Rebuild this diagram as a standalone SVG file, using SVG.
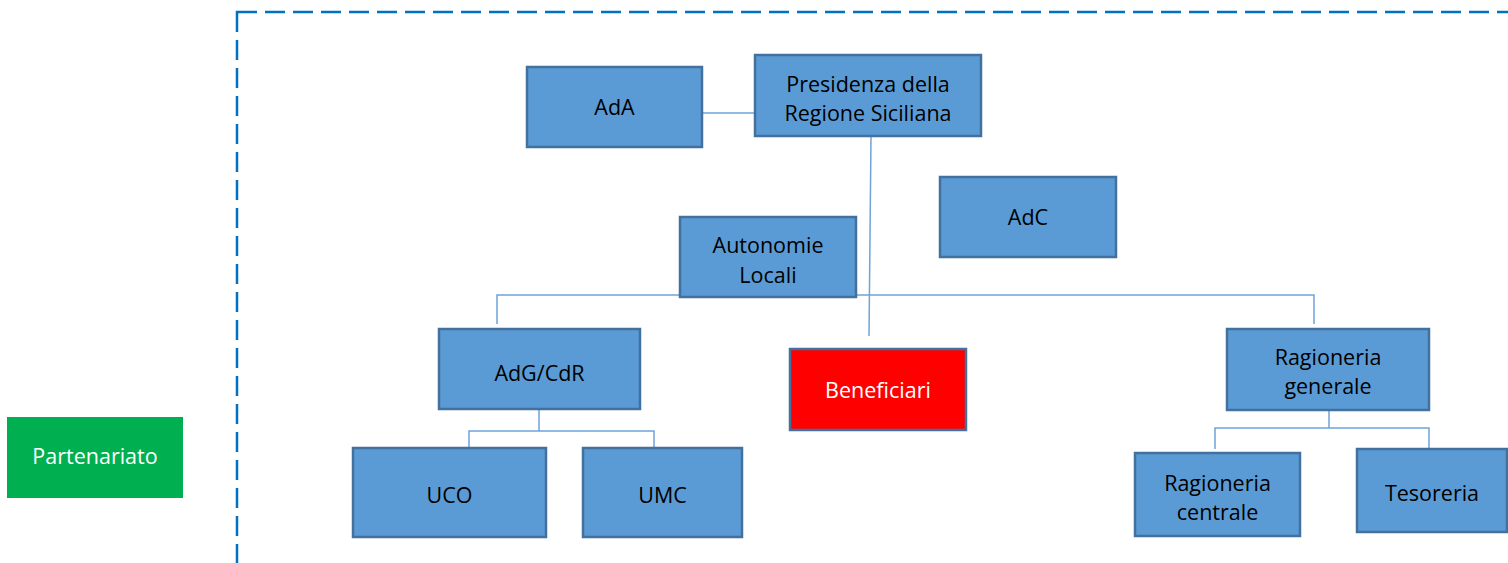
<svg xmlns="http://www.w3.org/2000/svg" width="1508" height="563" viewBox="0 0 1508 563">
<style>
.box{fill:#5B9BD5;stroke:#41719C;stroke-width:2.5}
.red{fill:#FF0000;stroke:#41719C;stroke-width:2.5}
.green{fill:#00B050}
text{font-family:"Open Sans","Noto Sans","Liberation Sans",sans-serif;font-size:21.5px;fill:#000;text-anchor:middle}
.w{fill:#FFFFFF}
.conn{fill:none;stroke:#6FA3D8;stroke-width:1.5}
</style>
<rect x="237" y="12" width="1300" height="600" fill="none" stroke="#0070C0" stroke-width="2.5" stroke-dasharray="20,8"/>
<g id="connectors">
<path class="conn" d="M702,113 H755" stroke-width="2"/>
<path class="conn" d="M871,137 L869,336"/>
<path class="conn" d="M497,324 V295 H1314 V324"/>
<path class="conn" d="M539,410 V431 M469,448 V431 H654 V448"/>
<path class="conn" d="M1329,410 V428 M1215,449 V428 H1429 V449"/>
</g>
<g id="AdA"><rect class="box" x="527" y="67" width="175" height="80"/><text x="614.5" y="115">AdA</text></g>
<g id="Presidenza"><rect class="box" x="755" y="55" width="226" height="81"/><text x="868" y="92">Presidenza della</text><text x="868" y="121">Regione Siciliana</text></g>
<g id="AdC"><rect class="box" x="940" y="177" width="176" height="80"/><text x="1028" y="225">AdC</text></g>
<g id="AutonomieLocali"><rect class="box" x="680" y="217" width="176" height="80"/><text x="768" y="253">Autonomie</text><text x="768" y="283">Locali</text></g>
<g id="AdGCdR"><rect class="box" x="439" y="329" width="201" height="80"/><text x="539.5" y="381">AdG/CdR</text></g>
<g id="Beneficiari"><rect class="red" x="790" y="349" width="176" height="81"/><text class="w" x="878" y="398">Beneficiari</text></g>
<g id="RagioneriaGenerale"><rect class="box" x="1227" y="329" width="202" height="81"/><text x="1328" y="365">Ragioneria</text><text x="1328" y="394">generale</text></g>
<g id="UCO"><rect class="box" x="353" y="448" width="193" height="89"/><text x="449.5" y="503">UCO</text></g>
<g id="UMC"><rect class="box" x="583" y="448" width="159" height="89"/><text x="662.5" y="503">UMC</text></g>
<g id="RagioneriaCentrale"><rect class="box" x="1135" y="453" width="165" height="83"/><text x="1217.5" y="491">Ragioneria</text><text x="1217.5" y="520">centrale</text></g>
<g id="Tesoreria"><rect class="box" x="1357" y="449" width="150" height="83"/><text x="1432" y="501">Tesoreria</text></g>
<g id="Partenariato"><rect class="green" x="7" y="417" width="176" height="81"/><text class="w" x="95" y="464">Partenariato</text></g>
</svg>
